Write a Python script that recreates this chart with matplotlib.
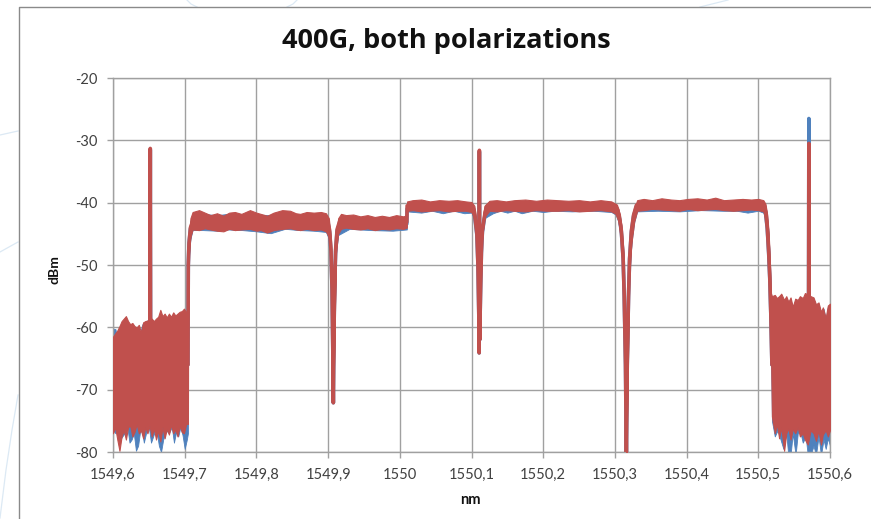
import matplotlib
matplotlib.use("Agg")
import matplotlib.pyplot as plt
from matplotlib.lines import Line2D

plt.rcParams['font.family'] = ['Lato', 'DejaVu Sans']
plt.rcParams['axes.unicode_minus'] = False

# ---------------- data ----------------
title = "400G, both polarizations"
x_label = "nm"
y_label = "dBm"
x_ticks = [1549.6, 1549.7, 1549.8, 1549.9, 1550.0, 1550.1, 1550.2, 1550.3, 1550.4, 1550.5, 1550.6]
x_tick_labels = ["1549,6", "1549,7", "1549,8", "1549,9", "1550", "1550,1",
                 "1550,2", "1550,3", "1550,4", "1550,5", "1550,6"]
y_ticks = [-80, -70, -60, -50, -40, -30, -20]
y_tick_labels = ["-80", "-70", "-60", "-50", "-40", "-30", "-20"]

# Series 1 (blue) - envelope of the trace (wavelength nm, upper dBm, lower dBm)
blue_band_wl = [1549.600, 1549.6035, 1549.605, 1549.610, 1549.616, 1549.620, 1549.623, 1549.626,
                1549.629, 1549.632, 1549.635, 1549.638, 1549.641, 1549.643, 1549.646, 1549.650,
                1549.653, 1549.656, 1549.660, 1549.664, 1549.667, 1549.670, 1549.674, 1549.678,
                1549.682, 1549.685, 1549.688, 1549.691, 1549.694, 1549.697, 1549.700, 1549.703,
                1549.7045, 1549.705, 1549.706, 1549.708, 1549.711, 1549.725, 1549.745, 1549.760,
                1549.780, 1549.800, 1549.820, 1549.840, 1549.860, 1549.880, 1549.897, 1549.901,
                1549.904, 1549.9073, 1549.911, 1549.914, 1549.930, 1549.960, 1549.990, 1550.0098,
                1550.0102, 1550.030, 1550.045, 1550.060, 1550.075, 1550.090, 1550.100, 1550.104,
                1550.1075, 1550.111, 1550.1145, 1550.118, 1550.130, 1550.140, 1550.150, 1550.160,
                1550.170, 1550.185, 1550.200, 1550.215, 1550.240, 1550.270, 1550.295, 1550.301,
                1550.305, 1550.309, 1550.312, 1550.316, 1550.320, 1550.323, 1550.327, 1550.331,
                1550.360, 1550.390, 1550.420, 1550.450, 1550.470, 1550.485, 1550.500, 1550.507,
                1550.510, 1550.5125, 1550.5145, 1550.516, 1550.5175, 1550.519, 1550.523, 1550.527,
                1550.531, 1550.535, 1550.539, 1550.5418, 1550.545, 1550.548, 1550.552, 1550.555,
                1550.558, 1550.562, 1550.566, 1550.569, 1550.573, 1550.577, 1550.5804, 1550.584,
                1550.5874, 1550.591, 1550.594, 1550.597, 1550.600]
blue_band_hi = [-60.2, -60.3, -61.5, -60.0, -58.7, -59.3, -59.5, -59.6,
                -60.0, -60.0, -60.3, -60.8, -59.5, -59.3, -59.0, -58.8,
                -58.8, -59.3, -59.0, -58.5, -58.0, -58.4, -58.5, -58.2,
                -58.6, -58.2, -58.5, -58.0, -57.8, -57.8, -57.5, -57.8,
                -57.5, -49.5, -46.0, -43.0, -41.8, -41.8, -42.0, -41.8,
                -41.9, -41.9, -42.0, -41.8, -41.9, -41.9, -41.9, -42.7,
                -46.2, -72.0, -46.2, -42.7, -42.2, -42.4, -42.3, -42.3,
                -40.2, -40.0, -40.0, -40.0, -40.0, -40.1, -40.2, -40.8,
                -43.8, -64.0, -43.8, -40.8, -40.0, -40.0, -40.0, -40.0,
                -40.0, -40.0, -40.0, -40.0, -40.0, -40.0, -40.0, -40.4,
                -41.2, -43.7, -48.2, -81.0, -48.2, -43.7, -41.2, -39.8,
                -39.7, -39.8, -39.7, -39.7, -39.7, -39.7, -39.7, -39.8,
                -40.4, -42.2, -45.2, -49.2, -54.8, -55.3, -55.0, -55.5,
                -55.2, -55.8, -55.3, -56.0, -55.5, -57.0, -55.6, -55.8,
                -55.2, -55.5, -54.8, -55.0, -55.2, -55.4, -56.5, -56.2,
                -57.7, -57.0, -58.7, -56.7, -56.4]
blue_band_lo = [-76.5, -77.0, -76.0, -78.0, -77.0, -76.0, -78.5, -78.0,
                -77.0, -79.8, -79.0, -76.5, -77.0, -78.5, -77.0, -76.0,
                -78.5, -77.5, -76.0, -79.0, -80.0, -78.0, -76.5, -77.0,
                -76.0, -78.5, -76.8, -77.5, -76.0, -77.3, -79.5, -78.0,
                -77.0, -52.5, -48.5, -45.8, -44.4, -44.4, -44.5, -44.3,
                -44.4, -44.6, -44.9, -44.2, -44.4, -44.5, -44.7, -45.8,
                -48.2, -72.0, -48.2, -45.2, -44.2, -44.4, -44.5, -44.3,
                -41.4, -41.6, -41.3, -41.7, -41.3, -41.7, -41.6, -42.7,
                -46.2, -64.0, -46.2, -42.5, -41.7, -41.3, -41.6, -41.3,
                -41.7, -41.3, -41.5, -41.3, -41.4, -41.3, -41.5, -41.9,
                -43.1, -46.6, -52.1, -81.0, -52.1, -46.6, -43.1, -41.4,
                -41.3, -41.4, -41.2, -41.3, -41.3, -41.6, -41.3, -41.6,
                -42.7, -46.2, -51.2, -55.2, -62.5, -75.0, -77.5, -76.5,
                -78.0, -79.5, -77.0, -80.5, -80.5, -77.0, -80.5, -77.0,
                -76.5, -78.5, -77.5, -80.5, -80.5, -79.0, -80.5, -77.5,
                -80.5, -78.0, -79.5, -77.8, -79.0]
# Series 1 (blue) - narrow features (spikes and notches) of the trace
blue_line_wl = [1549.600, 1549.6515, 1549.652, 1549.6525, 1549.7045, 1549.705, 1549.706, 1549.708,
                1549.711, 1549.720, 1549.899, 1549.902, 1549.904, 1549.9055, 1549.9065, 1549.9073,
                1549.908, 1549.909, 1549.9105, 1549.9125, 1549.916, 1550.0098, 1550.0102, 1550.100,
                1550.104, 1550.1075, 1550.109, 1550.1102, 1550.1107, 1550.1110, 1550.1114, 1550.1125,
                1550.1138, 1550.1152, 1550.119, 1550.122, 1550.302, 1550.306, 1550.309, 1550.3115,
                1550.313, 1550.3148, 1550.316, 1550.3172, 1550.319, 1550.3205, 1550.323, 1550.326,
                1550.330, 1550.507, 1550.510, 1550.5125, 1550.5145, 1550.516, 1550.5175, 1550.519,
                1550.5700, 1550.5705, 1550.5710, 1550.600]
blue_line_db = [-68.0, -68.0, -31.5, -68.0, -66.0, -50.0, -46.5, -44.2,
                -43.3, -43.1, -43.2, -44.6, -47.8, -54.0, -63.0, -72.1,
                -63.0, -54.0, -47.8, -44.6, -43.3, -43.4, -41.0, -41.0,
                -41.8, -45.2, -50.0, -58.0, -64.1, -31.8, -62.0, -55.0,
                -48.0, -44.7, -41.8, -40.9, -40.8, -42.2, -44.7, -49.0,
                -55.0, -66.0, -81.0, -66.0, -55.0, -49.0, -44.7, -42.2,
                -40.6, -40.6, -41.5, -44.2, -48.2, -52.2, -58.0, -66.0,
                -66.0, -26.5, -66.0, -66.0]

# Series 2 (red) - envelope of the trace
red_band_wl = [1549.600, 1549.603, 1549.606, 1549.609, 1549.612, 1549.615, 1549.618, 1549.621,
               1549.624, 1549.627, 1549.630, 1549.633, 1549.636, 1549.639, 1549.642, 1549.645,
               1549.648, 1549.651, 1549.654, 1549.657, 1549.660, 1549.663, 1549.666, 1549.669,
               1549.672, 1549.675, 1549.678, 1549.681, 1549.684, 1549.687, 1549.690, 1549.693,
               1549.696, 1549.699, 1549.702, 1549.7045, 1549.705, 1549.706, 1549.708, 1549.711,
               1549.720, 1549.728, 1549.736, 1549.745, 1549.754, 1549.762, 1549.770, 1549.779,
               1549.791, 1549.800, 1549.806, 1549.815, 1549.824, 1549.836, 1549.847, 1549.855,
               1549.861, 1549.870, 1549.880, 1549.890, 1549.897, 1549.901, 1549.904, 1549.9073,
               1549.911, 1549.914, 1549.918, 1549.925, 1549.935, 1549.945, 1549.955, 1549.965,
               1549.975, 1549.985, 1549.995, 1550.005, 1550.0098, 1550.0102, 1550.018, 1550.030,
               1550.042, 1550.055, 1550.068, 1550.080, 1550.092, 1550.100, 1550.104, 1550.1075,
               1550.111, 1550.1145, 1550.118, 1550.125, 1550.135, 1550.148, 1550.160, 1550.175,
               1550.190, 1550.205, 1550.220, 1550.235, 1550.250, 1550.265, 1550.280, 1550.295,
               1550.301, 1550.305, 1550.309, 1550.312, 1550.316, 1550.320, 1550.323, 1550.327,
               1550.331, 1550.340, 1550.352, 1550.365, 1550.378, 1550.390, 1550.402, 1550.415,
               1550.428, 1550.440, 1550.452, 1550.465, 1550.478, 1550.490, 1550.500, 1550.507,
               1550.510, 1550.5125, 1550.5145, 1550.516, 1550.5175, 1550.519, 1550.523, 1550.526,
               1550.529, 1550.532, 1550.536, 1550.539, 1550.542, 1550.545, 1550.548, 1550.5515,
               1550.555, 1550.558, 1550.562, 1550.565, 1550.569, 1550.573, 1550.577, 1550.5804,
               1550.584, 1550.5874, 1550.590, 1550.594, 1550.597, 1550.600]
red_band_hi = [-61.5, -61.0, -60.5, -59.8, -59.0, -58.6, -58.2, -59.0,
               -59.5, -59.3, -59.8, -60.0, -59.6, -60.8, -59.2, -59.0,
               -58.9, -58.7, -58.6, -59.0, -58.6, -58.3, -57.2, -58.2,
               -57.8, -58.4, -57.8, -58.3, -57.6, -58.1, -57.8, -57.5,
               -57.4, -57.0, -57.6, -57.0, -49.0, -45.5, -42.5, -41.5,
               -41.2, -41.6, -42.0, -41.7, -42.1, -41.6, -41.5, -41.8,
               -41.2, -41.6, -41.8, -42.1, -41.6, -41.2, -41.3, -41.7,
               -41.8, -41.5, -41.6, -41.5, -41.7, -42.5, -46.0, -72.0,
               -46.0, -42.5, -41.8, -42.0, -41.9, -42.2, -42.0, -42.3,
               -42.1, -42.3, -42.0, -42.2, -42.0, -39.8, -39.6, -39.5,
               -39.8, -39.6, -39.7, -39.6, -39.8, -39.9, -40.5, -43.5,
               -64.0, -43.5, -40.5, -39.7, -39.6, -39.8, -39.6, -39.5,
               -39.7, -39.5, -39.6, -39.7, -39.6, -39.8, -39.6, -39.8,
               -40.2, -41.0, -43.5, -48.0, -81.0, -48.0, -43.5, -41.0,
               -39.6, -39.4, -39.6, -39.3, -39.5, -39.6, -39.4, -39.3,
               -39.5, -39.2, -39.6, -39.5, -39.4, -39.5, -39.4, -39.6,
               -40.2, -42.0, -45.0, -49.0, -54.5, -55.0, -54.8, -55.3,
               -55.0, -54.6, -55.6, -55.0, -55.9, -55.2, -56.7, -55.4,
               -55.6, -55.0, -55.3, -54.5, -54.7, -55.0, -55.2, -56.3,
               -56.0, -57.5, -56.8, -58.5, -56.5, -56.2]
red_band_lo = [-77.0, -76.0, -78.0, -79.8, -77.5, -76.5, -78.0, -76.0,
               -75.8, -77.5, -76.8, -75.5, -77.0, -76.5, -77.8, -76.0,
               -77.0, -75.8, -77.5, -76.2, -78.0, -76.5, -78.3, -76.0,
               -77.8, -76.3, -77.2, -75.6, -77.0, -76.4, -77.5, -75.8,
               -76.8, -77.0, -75.5, -75.5, -52.0, -48.0, -45.5, -44.3,
               -44.4, -44.1, -44.3, -44.5, -44.6, -44.2, -44.4, -44.3,
               -44.2, -44.5, -44.4, -44.8, -44.4, -44.2, -44.1, -44.3,
               -44.4, -44.2, -44.4, -44.3, -44.6, -45.5, -48.0, -72.0,
               -48.0, -45.0, -44.2, -44.0, -44.2, -44.3, -44.1, -44.4,
               -44.2, -44.3, -44.1, -44.2, -44.0, -41.3, -41.2, -41.4,
               -41.3, -41.2, -41.4, -41.3, -41.3, -41.5, -42.5, -46.0,
               -64.0, -46.0, -42.3, -41.3, -41.4, -41.2, -41.3, -41.4,
               -41.2, -41.3, -41.3, -41.2, -41.4, -41.3, -41.2, -41.4,
               -41.8, -43.0, -46.5, -52.0, -81.0, -52.0, -46.5, -43.0,
               -41.3, -41.2, -41.0, -41.1, -41.2, -41.3, -41.0, -41.2,
               -41.1, -41.0, -41.2, -41.3, -41.2, -41.1, -41.2, -41.4,
               -42.5, -46.0, -51.0, -55.0, -62.0, -74.3, -77.0, -75.5,
               -77.8, -76.0, -79.8, -77.0, -76.2, -78.0, -76.3, -77.0,
               -76.0, -77.5, -77.0, -78.0, -78.8, -76.5, -77.0, -78.2,
               -76.5, -78.8, -77.2, -76.5, -77.5, -76.5]
# Series 2 (red) - narrow features (spikes and notches) of the trace
red_line_wl = blue_line_wl
red_line_db = [-68.0, -68.0, -31.3, -68.0, -66.0, -50.0, -46.5, -44.0,
               -43.0, -42.8, -42.9, -44.3, -47.5, -54.0, -63.0, -72.1,
               -63.0, -54.0, -47.5, -44.3, -43.0, -43.1, -40.5, -40.5,
               -41.5, -45.0, -50.0, -58.0, -64.1, -31.6, -62.0, -55.0,
               -48.0, -44.5, -41.5, -40.5, -40.5, -42.0, -44.5, -49.0,
               -55.0, -66.0, -81.0, -66.0, -55.0, -49.0, -44.5, -42.0,
               -40.4, -40.3, -41.3, -44.0, -48.0, -52.0, -58.0, -66.0,
               -66.0, -30.5, -66.0, -66.0]

blue = "#4F81BD"
red = "#C0504D"

# ---------------- figure ----------------
W, H = 871, 519
fig = plt.figure(figsize=(W / 100, H / 100), dpi=100)
fig.patch.set_facecolor("white")

def fx(px):
    return px / W

def fy(py):
    return 1 - py / H

# faint decorative background curves
deco = "#dce9f4"
for xs, ys in [([0, 9, 18], [135, 133, 131]),
               ([0, 9, 18], [252, 247, 242]),
               ([0, 6, 12, 18], [518, 470, 430, 395]),
               ([187, 191, 197], [0, 4, 7]),
               ([297, 293, 287], [0, 4, 7]),
               ([700, 712, 728], [7, 4, 0])]:
    fig.add_artist(Line2D([fx(v) for v in xs], [fy(v) for v in ys],
                          color=deco, lw=0.9))

# chart border (left and top edges visible)
fig.add_artist(Line2D([fx(18.5), fx(18.5), fx(871)], [fy(519), fy(7), fy(7)],
                      color="#8a8a8a", lw=1.0))

ax = fig.add_axes([fx(113), fy(452), fx(830) - fx(113), fy(78) - fy(452)])
ax.set_facecolor("white")

ax.fill_between(blue_band_wl, blue_band_lo, blue_band_hi, color=blue, lw=0.6,
                edgecolor=blue, zorder=2)
ax.plot(blue_line_wl, blue_line_db, color=blue, lw=2.6, solid_joinstyle="round", zorder=2)
ax.fill_between(red_band_wl, red_band_lo, red_band_hi, color=red, lw=0.8,
                edgecolor=red, zorder=3)
ax.plot(red_line_wl, red_line_db, color=red, lw=2.6, solid_joinstyle="round", zorder=3)

ax.set_xlim(x_ticks[0], x_ticks[-1])
ax.set_ylim(y_ticks[0], y_ticks[-1])
ax.set_xticks(x_ticks)
ax.set_xticklabels(x_tick_labels)
ax.set_yticks(y_ticks)
ax.set_yticklabels(y_tick_labels)

grid_c = "#a0a0a0"
ax.grid(True, color=grid_c, lw=1.0, zorder=1)
ax.set_axisbelow(True)
for s in ax.spines.values():
    s.set_color(grid_c)
    s.set_linewidth(1.0)
ax.tick_params(axis="both", direction="out", length=4, width=1.0, color=grid_c,
               labelcolor="#404040", labelsize=10.5)
ax.tick_params(axis="x", pad=7.5)
ax.tick_params(axis="y", pad=7)

fig.text(fx(446), fy(48), title, ha="center", va="baseline",
         fontsize=19.5, fontweight="bold", color="#111111",
         family=["Open Sans", "DejaVu Sans"])
fig.text(fx(470), fy(500), x_label, ha="center", va="center",
         fontsize=10.5, fontweight="bold", color="#111111")
fig.text(fx(54), fy(270), y_label, ha="center", va="center", rotation=90,
         fontsize=10, fontweight="bold", color="#111111")

fig.savefig("out.png", dpi=100, facecolor="white")
